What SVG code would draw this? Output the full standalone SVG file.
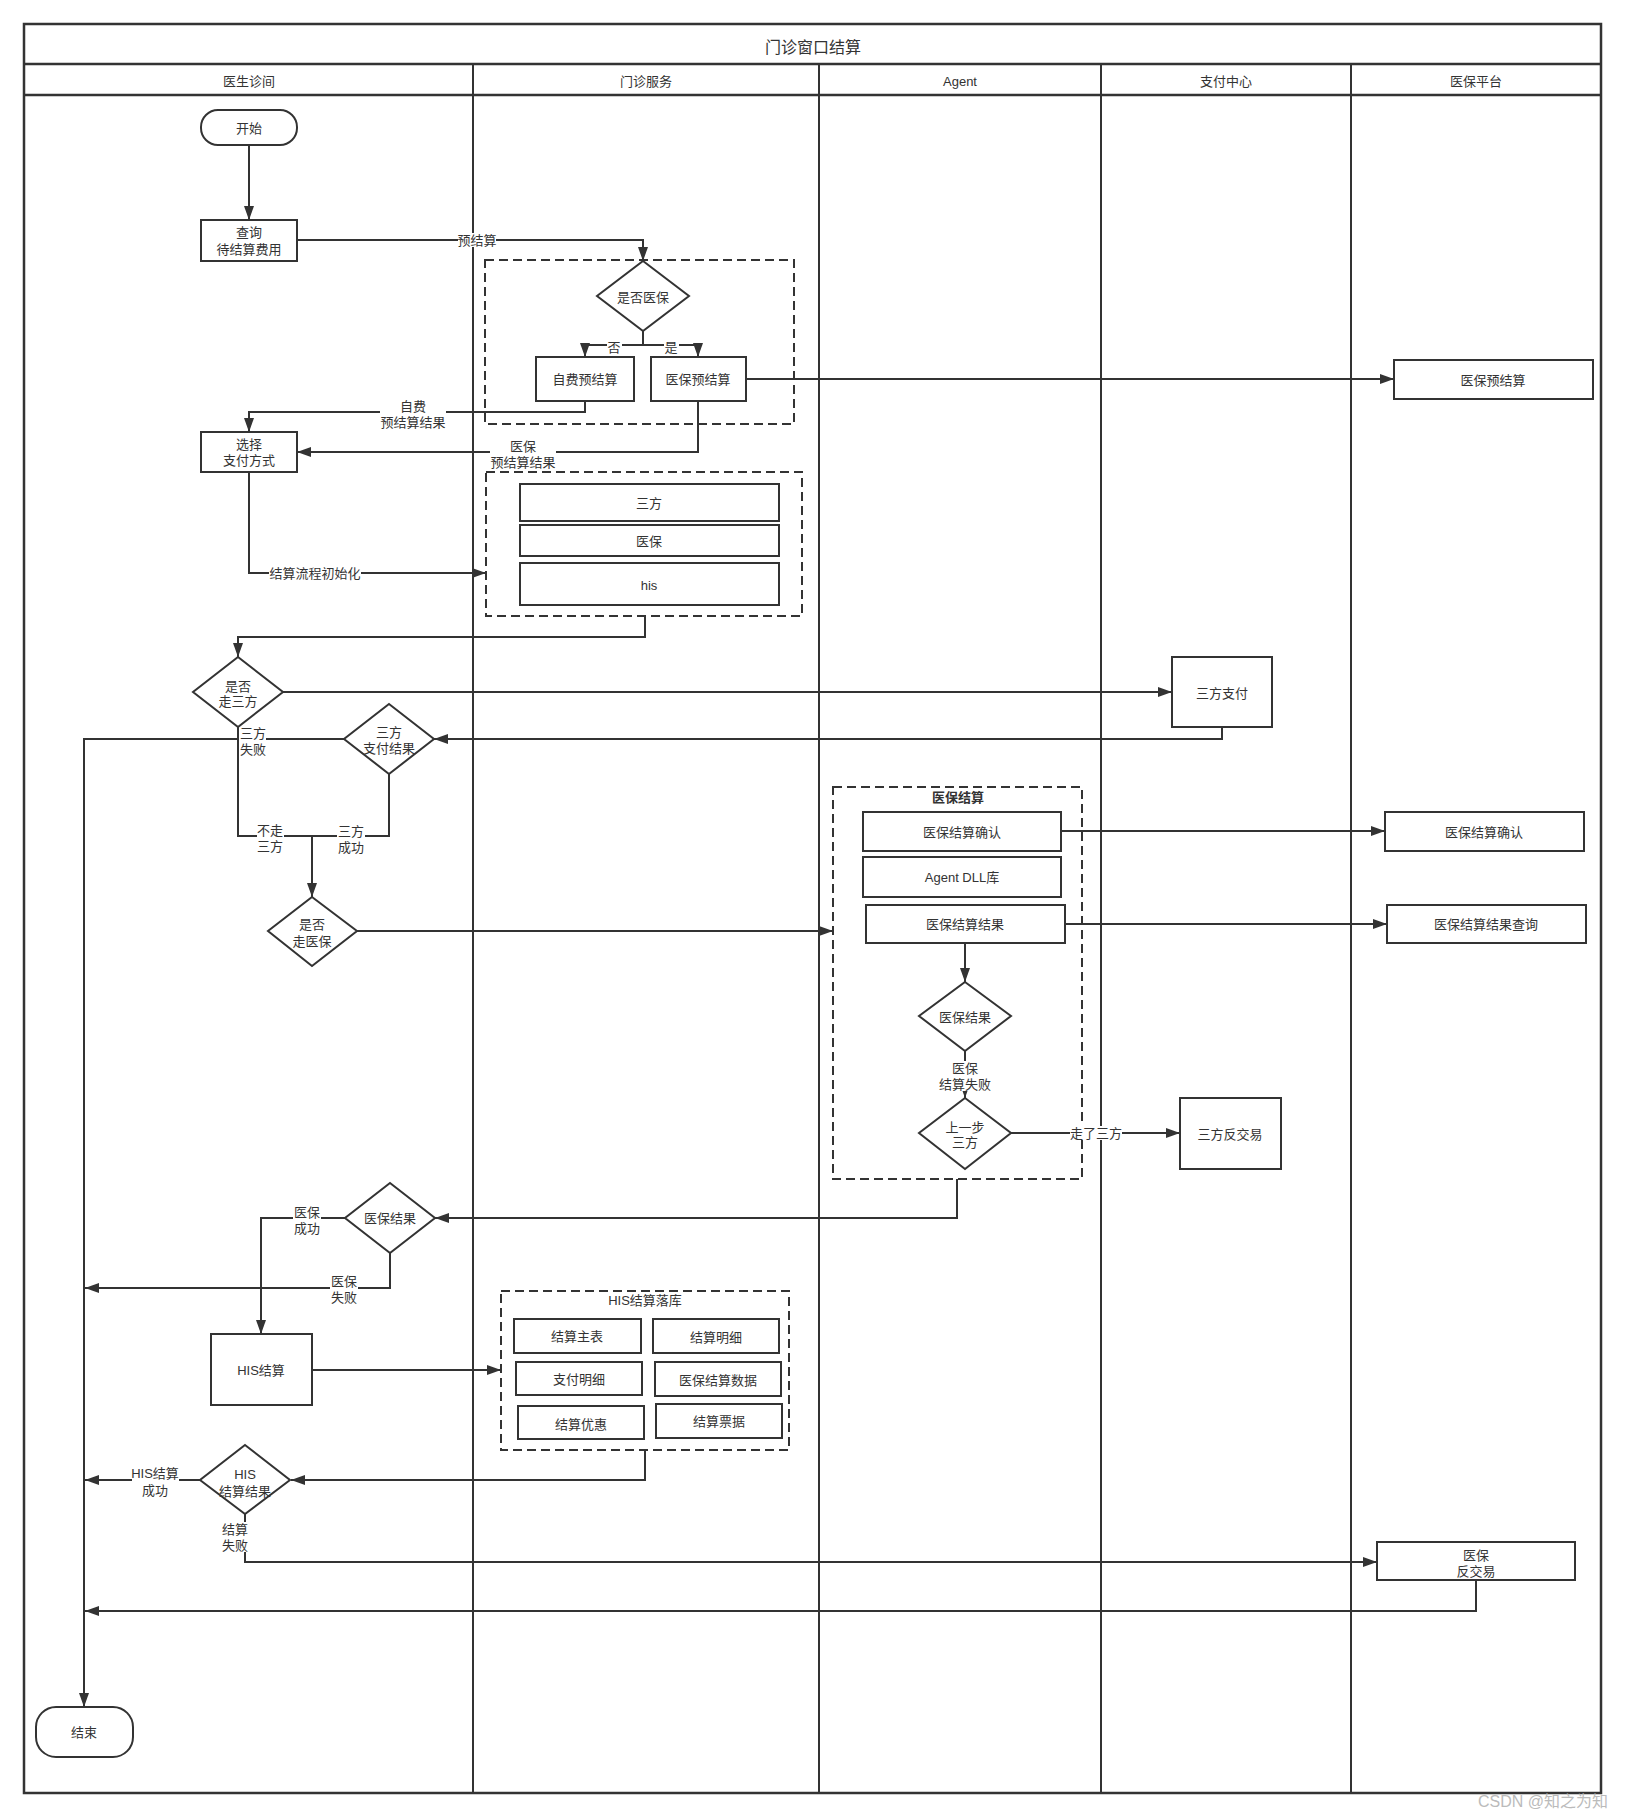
<svg xmlns="http://www.w3.org/2000/svg" width="1626" height="1818" viewBox="0 0 1626 1818">
<defs>
<style>
.frame{fill:none;stroke:#333;stroke-width:2.5}
.lane{stroke:#333;stroke-width:2;fill:none}
.box{fill:#fff;stroke:#333;stroke-width:2}
.dash{fill:none;stroke:#333;stroke-width:2;stroke-dasharray:9 5}
.t{font-family:"Liberation Sans","Noto Sans CJK SC",sans-serif;font-size:13px;fill:#333;text-anchor:middle;dominant-baseline:central}
.title{font-size:16px}
.b{font-weight:bold}
.e{fill:none;stroke:#333;stroke-width:2;marker-end:url(#arr)}
.e0{fill:none;stroke:#333;stroke-width:2}
.bg{fill:#fff}
.wm{font-family:"Liberation Sans","Noto Sans CJK SC",sans-serif;font-size:16px;fill:#bbb;text-anchor:middle;dominant-baseline:central}
</style>
<marker id="arr" viewBox="0 0 14 10" refX="14" refY="5" markerWidth="14" markerHeight="10" markerUnits="userSpaceOnUse" orient="auto">
<path d="M0,0 L14,5 L0,10 z" fill="#333"/>
</marker>
</defs>
<rect x="0" y="0" width="1626" height="1818" fill="#fff"/>

<g id="swimlanes">
<rect class="frame" x="24" y="24" width="1577" height="1769"/>
<line class="frame" x1="24" y1="64" x2="1601" y2="64"/>
<line class="frame" x1="24" y1="95" x2="1601" y2="95"/>
<line class="lane" x1="473" y1="64" x2="473" y2="1793"/>
<line class="lane" x1="819" y1="64" x2="819" y2="1793"/>
<line class="lane" x1="1101" y1="64" x2="1101" y2="1793"/>
<line class="lane" x1="1351" y1="64" x2="1351" y2="1793"/>
<text class="t title" x="813" y="47">门诊窗口结算</text>
<text class="t" x="249" y="81">医生诊间</text>
<text class="t" x="646" y="81">门诊服务</text>
<text class="t" x="960" y="81">Agent</text>
<text class="t" x="1226" y="81">支付中心</text>
<text class="t" x="1476" y="81">医保平台</text>
</g>

<g id="containers">
<rect id="precalc-group" class="dash" x="485" y="260" width="309" height="164"/>
<rect id="init-group" class="dash" x="486" y="472" width="316" height="144"/>
<rect id="yb-settle-group" class="dash" x="833" y="787" width="249" height="392"/>
<text class="t b" x="958" y="797">医保结算</text>
<rect id="his-db-group" class="dash" x="501" y="1291" width="288" height="159"/>
<text class="t" x="645" y="1300">HIS结算落库</text>
</g>

<g id="connectors">
<path class="e" d="M249,145 V220"/>
<path class="e" d="M297,240 H643 V261"/>
<path class="e" d="M643,331 V345 H585 V357"/>
<path class="e" d="M643,345 H698 V357"/>
<path class="e" d="M746,379 H1394"/>
<path class="e" d="M585,401 V412 H249 V432"/>
<path class="e" d="M698,401 V452 H297"/>
<path class="e" d="M249,472 V573 H486"/>
<path class="e" d="M645,616 V637 H238 V657"/>
<path class="e" d="M282,692 H1172"/>
<path class="e" d="M1222,727 V739 H434"/>
<path class="e" d="M344,739 H84 V1707"/>
<path class="e" d="M238,727 V836 H312 V897"/>
<path class="e0" d="M389,774 V836 H312"/>
<path class="e" d="M357,931 H833"/>
<path class="e" d="M1061,831 H1385"/>
<path class="e" d="M1065,924 H1387"/>
<path class="e" d="M965,943 V982"/>
<path class="e" d="M965,1051 V1098"/>
<path class="e" d="M1011,1133 H1180"/>
<path class="e" d="M957,1179 V1218 H435"/>
<path class="e" d="M345,1218 H261 V1334"/>
<path class="e" d="M390,1253 V1288 H85"/>
<path class="e" d="M312,1370 H501"/>
<path class="e" d="M645,1450 V1480 H291"/>
<path class="e" d="M200,1480 H85"/>
<path class="e" d="M245,1514 V1562 H1377"/>
<path class="e" d="M1476,1580 V1611 H85"/>

<g id="edge-labels">
<rect class="bg" x="458" y="233" width="38" height="14"/>
<text class="t" x="477" y="240">预结算</text>
<rect class="bg" x="607" y="339" width="15" height="14"/>
<text class="t" x="614" y="347">否</text>
<rect class="bg" x="664" y="339" width="15" height="14"/>
<text class="t" x="671" y="347">是</text>
<rect class="bg" x="380" y="398" width="66" height="32"/>
<text class="t" x="413" y="406">自费</text>
<text class="t" x="413" y="422">预结算结果</text>
<rect class="bg" x="490" y="438" width="66" height="32"/>
<text class="t" x="523" y="446">医保</text>
<text class="t" x="523" y="462">预结算结果</text>
<rect class="bg" x="269" y="566" width="92" height="14"/>
<text class="t" x="315" y="573">结算流程初始化</text>
<rect class="bg" x="239" y="726" width="27" height="30"/>
<text class="t" x="253" y="733">三方</text>
<text class="t" x="253" y="749">失败</text>
<rect class="bg" x="257" y="823" width="27" height="30"/>
<text class="t" x="270" y="830">不走</text>
<text class="t" x="270" y="846">三方</text>
<rect class="bg" x="337" y="824" width="28" height="30"/>
<text class="t" x="351" y="831">三方</text>
<text class="t" x="351" y="847">成功</text>
<rect class="bg" x="293" y="1205" width="28" height="30"/>
<text class="t" x="307" y="1212">医保</text>
<text class="t" x="307" y="1228">成功</text>
<rect class="bg" x="330" y="1274" width="28" height="30"/>
<text class="t" x="344" y="1281">医保</text>
<text class="t" x="344" y="1297">失败</text>
<rect class="bg" x="937" y="1061" width="56" height="30"/>
<text class="t" x="965" y="1068">医保</text>
<text class="t" x="965" y="1084">结算失败</text>
<rect class="bg" x="1070" y="1126" width="52" height="14"/>
<text class="t" x="1096" y="1133">走了三方</text>
<rect class="bg" x="132" y="1466" width="47" height="30"/>
<text class="t" x="155" y="1473">HIS结算</text>
<text class="t" x="155" y="1490">成功</text>
<rect class="bg" x="221" y="1522" width="28" height="30"/>
<text class="t" x="235" y="1529">结算</text>
<text class="t" x="235" y="1545">失败</text>
</g>
</g>

<g id="start">
<rect class="box" x="201" y="110" width="96" height="35" rx="17" ry="17"/>
<text class="t" x="249" y="128">开始</text>
</g>
<g id="query">
<rect class="box" x="201" y="220" width="96" height="41"/>
<text class="t" x="249" y="232">查询</text>
<text class="t" x="249" y="249">待结算费用</text>
</g>
<g id="is-yb">
<polygon class="box" points="643,261 689,296 643,331 597,296"/>
<text class="t" x="643" y="297">是否医保</text>
</g>
<g id="self-precalc">
<rect class="box" x="536" y="357" width="98" height="44"/>
<text class="t" x="585" y="379">自费预结算</text>
</g>
<g id="yb-precalc">
<rect class="box" x="651" y="357" width="95" height="44"/>
<text class="t" x="698" y="379">医保预结算</text>
</g>
<g id="platform-precalc">
<rect class="box" x="1394" y="360" width="199" height="39"/>
<text class="t" x="1493" y="380">医保预结算</text>
</g>
<g id="choose-pay">
<rect class="box" x="201" y="432" width="96" height="40"/>
<text class="t" x="249" y="444">选择</text>
<text class="t" x="249" y="460">支付方式</text>
</g>
<g id="init-sanfang">
<rect class="box" x="520" y="484" width="259" height="37"/>
<text class="t" x="649" y="503">三方</text>
</g>
<g id="init-yb">
<rect class="box" x="520" y="525" width="259" height="31"/>
<text class="t" x="649" y="541">医保</text>
</g>
<g id="init-his">
<rect class="box" x="520" y="563" width="259" height="42"/>
<text class="t" x="649" y="585">his</text>
</g>
<g id="is-third">
<polygon class="box" points="238,657 283,692 238,727 193,692"/>
<text class="t" x="238" y="686">是否</text>
<text class="t" x="238" y="701">走三方</text>
</g>
<g id="third-pay">
<rect class="box" x="1172" y="657" width="100" height="70"/>
<text class="t" x="1222" y="693">三方支付</text>
</g>
<g id="third-result">
<polygon class="box" points="389,704 434,739 389,774 344,739"/>
<text class="t" x="389" y="732">三方</text>
<text class="t" x="389" y="748">支付结果</text>
</g>
<g id="is-yb2">
<polygon class="box" points="312,897 357,931 312,966 268,931"/>
<text class="t" x="312" y="924">是否</text>
<text class="t" x="312" y="941">走医保</text>
</g>
<g id="yb-confirm">
<rect class="box" x="863" y="812" width="198" height="39"/>
<text class="t" x="962" y="832">医保结算确认</text>
</g>
<g id="agent-dll">
<rect class="box" x="863" y="857" width="198" height="40"/>
<text class="t" x="962" y="877">Agent DLL库</text>
</g>
<g id="yb-settle-result">
<rect class="box" x="866" y="905" width="199" height="38"/>
<text class="t" x="965" y="924">医保结算结果</text>
</g>
<g id="platform-confirm">
<rect class="box" x="1385" y="812" width="199" height="39"/>
<text class="t" x="1484" y="832">医保结算确认</text>
</g>
<g id="platform-query">
<rect class="box" x="1387" y="905" width="199" height="38"/>
<text class="t" x="1486" y="924">医保结算结果查询</text>
</g>
<g id="agent-yb-result">
<polygon class="box" points="965,982 1011,1016 965,1051 919,1016"/>
<text class="t" x="965" y="1017">医保结果</text>
</g>
<g id="prev-third">
<polygon class="box" points="965,1098 1011,1133 965,1169 919,1133"/>
<text class="t" x="965" y="1127">上一步</text>
<text class="t" x="965" y="1142">三方</text>
</g>
<g id="third-reverse">
<rect class="box" x="1180" y="1098" width="101" height="71"/>
<text class="t" x="1230" y="1134">三方反交易</text>
</g>
<g id="yb-result">
<polygon class="box" points="390,1183 435,1218 390,1253 345,1218"/>
<text class="t" x="390" y="1218">医保结果</text>
</g>
<g id="his-settle">
<rect class="box" x="211" y="1334" width="101" height="71"/>
<text class="t" x="261" y="1370">HIS结算</text>
</g>
<g id="db-main">
<rect class="box" x="514" y="1319" width="127" height="34"/>
<text class="t" x="577" y="1336">结算主表</text>
</g>
<g id="db-detail">
<rect class="box" x="653" y="1319" width="126" height="34"/>
<text class="t" x="716" y="1337">结算明细</text>
</g>
<g id="db-pay">
<rect class="box" x="516" y="1362" width="126" height="33"/>
<text class="t" x="579" y="1379">支付明细</text>
</g>
<g id="db-yb">
<rect class="box" x="655" y="1362" width="126" height="34"/>
<text class="t" x="718" y="1380">医保结算数据</text>
</g>
<g id="db-discount">
<rect class="box" x="518" y="1406" width="126" height="33"/>
<text class="t" x="581" y="1424">结算优惠</text>
</g>
<g id="db-bill">
<rect class="box" x="656" y="1404" width="126" height="34"/>
<text class="t" x="719" y="1421">结算票据</text>
</g>
<g id="his-result">
<polygon class="box" points="245,1445 290,1480 245,1514 200,1480"/>
<text class="t" x="245" y="1474">HIS</text>
<text class="t" x="245" y="1491">结算结果</text>
</g>
<g id="yb-reverse">
<rect class="box" x="1377" y="1542" width="198" height="38"/>
<text class="t" x="1476" y="1555">医保</text>
<text class="t" x="1476" y="1571">反交易</text>
</g>
<g id="end">
<rect class="box" x="36" y="1707" width="97" height="50" rx="20" ry="20"/>
<text class="t" x="84" y="1732">结束</text>
</g>
<text class="wm" x="1543" y="1801">CSDN @知之为知</text>
</svg>
